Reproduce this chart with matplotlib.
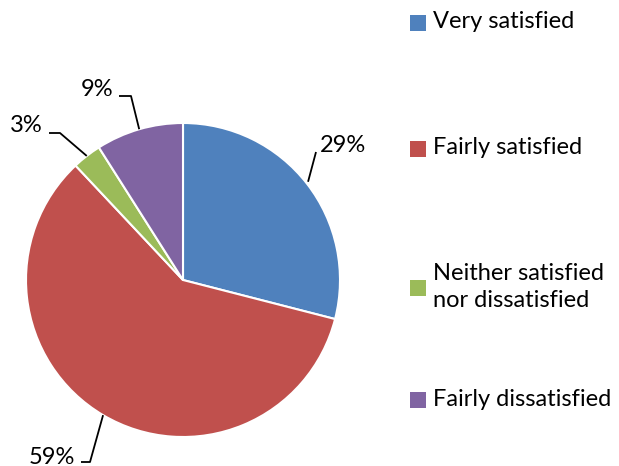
import numpy as np
import matplotlib.pyplot as plt

categories = ['Very satisfied', 'Fairly satisfied',
              'Neither satisfied\nnor dissatisfied', 'Fairly dissatisfied']
shares = [29, 59, 3, 9]
colors = ['#4F81BD', '#C0504D', '#9BBB59', '#8064A2']

W, H = 619, 466
plt.rcParams['font.family'] = ['Lato', 'DejaVu Sans']

fig = plt.figure(figsize=(W / 100, H / 100), dpi=100)
ax = fig.add_axes([0, 0, 1, 1])


def py(y):
    # pixel rows counted from the top
    return H - y


cx, cy, r = 183, 280, 157
wedges, _ = ax.pie(shares, colors=colors, startangle=90, counterclock=False,
                   center=(cx, py(cy)), radius=r, frame=True,
                   wedgeprops=dict(edgecolor='white', linewidth=1.5))
ax.set_xlim(0, W)
ax.set_ylim(0, H)
ax.set_aspect('equal')
ax.set_axis_off()

# label text position (x, y, ha) and leader elbow point
label_pos = [(320, 146, 'left'), (75, 457, 'right'), (43, 126, 'right'), (113, 89, 'right')]
elbows = [None, (90, 462), (60, 133), (131, 96)]

for w, val, (tx, ty, ha), elb in zip(wedges, shares, label_pos, elbows):
    mid = np.deg2rad((w.theta1 + w.theta2) / 2)
    ex = cx + r * np.cos(mid)
    ey = py(cy) + r * np.sin(mid)
    if elb is None:
        xs, ys = [ex + 1, tx - 4], [ey + 2, py(ty + 6)]
    else:
        xs = [ex, elb[0], tx + 6]
        ys = [ey, py(elb[1]), py(elb[1])]
    ax.plot(xs, ys, color='black', lw=1.3, solid_capstyle='butt')
    ax.text(tx, py(ty), f'{val}%', ha=ha, va='center', fontsize=17, color='black')

# legend
leg_y = [22, 148, 287, 399]
for lab, col, ly in zip(categories, colors, leg_y):
    ax.scatter([418], [py(ly + 1)], marker='s', s=120, color=col, linewidths=0)
    ax.text(433, py(ly), lab, ha='left', va='center', fontsize=17,
            color='black', linespacing=1.3)

fig.savefig('out.png', dpi=100)
